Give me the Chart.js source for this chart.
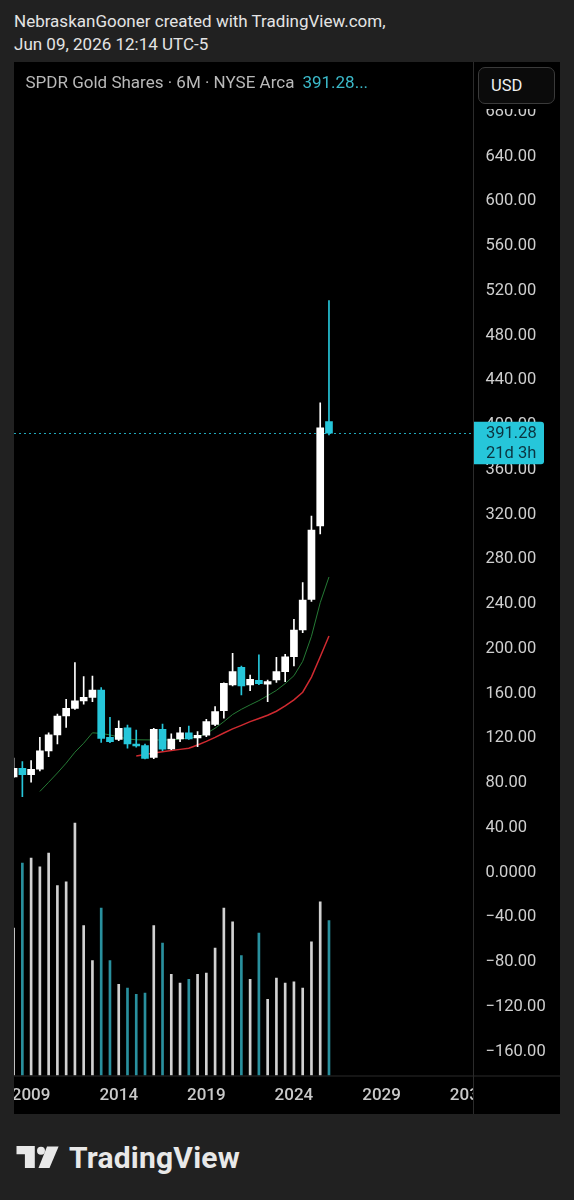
<!DOCTYPE html>
<html>
<head>
<meta charset="utf-8">
<script src="https://cdn.jsdelivr.net/npm/chart.js@4.4.1/dist/chart.umd.min.js"></script>
<style>
body { margin:0; width:574px; height:1200px; background:#212121; font-family: Roboto, "Noto Sans", sans-serif; position:relative; overflow:hidden; }
#credit { position:absolute; left:14px; top:10px; color:#e4e4e4; font-size:17px; line-height:23px; }
#frame { position:absolute; left:14px; top:62px; width:546px; height:1052px; background:#000; }
#frame canvas { position:absolute; left:0; top:0; }
#title { position:absolute; left:11.5px; top:10.5px; font-size:17px; line-height:19px; color:#b9b9b9; white-space:nowrap; }
#title span { color:#3bb9c9; margin-left:8px; }
#usdPanel { position:absolute; left:460px; top:0; width:86px; height:47px; background:#000; }
#usd { position:absolute; left:4px; top:5px; width:75px; height:35px; border:1px solid #3a3a3a; border-radius:7px; background:#0b0b0b; color:#f0f0f0; font-size:16.5px; line-height:35px; box-sizing:content-box; }
#usd span { margin-left:12px; }
#logoMark { position:absolute; left:0; top:1140px; }
#logoText { position:absolute; left:69px; top:1143px; font-size:30px; line-height:30px; font-weight:700; color:#e8e8e8; letter-spacing:0.2px; }
</style>
</head>
<body>
<div id="credit">NebraskanGooner created with TradingView.com,<br>Jun 09, 2026 12:14 UTC-5</div>
<div id="frame">
  <canvas id="myChart" width="546" height="1052"></canvas>
  <div id="title">SPDR Gold Shares · 6M · NYSE Arca<span id="lastPrice"></span></div>
  <div id="usdPanel"><div id="usd"><span>USD</span></div></div>
</div>
<svg id="logoMark" width="62" height="32">
  <path d="M16.5 6 H34.8 V28 H24.9 V14.3 H16.5 Z" fill="#e8e8e8"/>
  <circle cx="41" cy="10.7" r="4" fill="#e8e8e8"/>
  <path d="M47 6.5 H58.6 L49.5 28 H38.5 Z" fill="#e8e8e8"/>
</svg>
<div id="logoText">TradingView</div>

<script>
// 6M bars, GLD
const periods = ['2008 H1','2008 H2','2009 H1','2009 H2','2010 H1','2010 H2','2011 H1','2011 H2',
    '2012 H1','2012 H2','2013 H1','2013 H2','2014 H1','2014 H2','2015 H1','2015 H2',
    '2016 H1','2016 H2','2017 H1','2017 H2','2018 H1','2018 H2','2019 H1','2019 H2',
    '2020 H1','2020 H2','2021 H1','2021 H2','2022 H1','2022 H2','2023 H1','2023 H2',
    '2024 H1','2024 H2','2025 H1','2025 H2','2026 H1'];
const firstYear = 2008;

const openP  = [84, 91.8, 86.1, 90.9, 107.4, 121.6, 138.5, 145.4, 152, 155.2, 161.8, 119.5, 117.5, 128, 113.5, 112,
    101.5, 126.7, 109.1, 118, 123.6, 118.9, 121.3, 131, 143.3, 166.3, 182.1, 166.3, 170.5, 167, 170.7, 178.2,
    191.5, 215.4, 242.8, 308.4, 401.6];
const highP  = [101, 97.7, 98.6, 119.5, 123.6, 140.3, 153.5, 186.2, 173.7, 174.3, 164, 137.4, 134.3, 130.5, 126, 113.5,
    127.5, 131.4, 122.5, 128.4, 129.6, 124.5, 135.6, 146.9, 168.2, 194.6, 183.2, 175.2, 193.1, 170.7, 191, 193.7,
    225, 257.7, 317.3, 418.5, 509.8];
const lowP   = [83.5, 66.4, 79.3, 89.4, 102.2, 113.5, 128.4, 144.5, 149, 151.3, 115, 114.7, 116.5, 109.7, 110.6, 100.2,
    100.5, 107.5, 108.5, 115.6, 117.5, 111.1, 120, 130, 136.5, 165.5, 157.3, 161.2, 166.5, 151.3, 168.5, 169.2,
    183.2, 213, 241, 301.2, 389.7];
const closeP = [91.8, 86.1, 90.9, 107.4, 121.6, 138.5, 145.4, 152, 155.2, 161.8, 118.6, 115.6, 127.6, 113.5, 111.8, 100.7,
    126.7, 108.8, 118, 123.6, 118, 121.3, 133.5, 142.4, 167.8, 178.2, 165.4, 171.4, 167.5, 169.2, 178.2, 191.5,
    215.4, 242.2, 304.8, 396.2, 391.28];
// volume, millions of shares
const volume = [1180, 1700, 1740, 1670, 1780, 1520, 1550, 2020, 1200, 920, 1340, 920, 730, 700, 650, 660,
    1200, 1060, 810, 740, 770, 810, 820, 1020, 1340, 1230, 960, 770, 1140, 610, 780, 740,
    750, 700, 1070, 1390, 1240];
// moving averages (green / red)
const maFast = [null, null, null, 71.1, 79.3, 87.6, 96.4, 106.2, 114.2, 123.5, 123, 121.6, 119.8, 118, 117.3, 117.2,
    117.1, 117.1, 117.1, 118, 118.9, 119.8, 122.9, 127.6, 133.5, 139.9, 144.5, 148.5, 152.3, 156.8, 161.4, 167.5,
    174.5, 187.4, 209.8, 239.8, 262.8];
const maSlow = [null, null, null, null, null, null, null, null, null, null, null, null, null, null, 102.8, 104.1,
    105.4, 106.6, 107.6, 108.7, 109.7, 112.6, 115.8, 119.4, 123.3, 127, 130.2, 133.5, 136.3, 139.2, 142.8, 147.5,
    153, 159.8, 173.3, 191.5, 210];

const priceTicks = [-160, -120, -80, -40, 0, 40, 80, 120, 160, 200, 240, 280, 320, 360, 400, 440, 480, 520, 560, 600, 640, 680];
const yearTicks = [2009, 2014, 2019, 2024, 2029, 2034];
const countdown = '21d 3h';

const upColor = '#ffffff';
const downColor = '#26c6da';
const volUp = 'rgba(232,232,232,0.9)';
const volDown = 'rgba(46,160,175,0.9)';
const gridLine = '#2b2b2b';

const lastClose = closeP[closeP.length - 1];
document.getElementById('lastPrice').textContent = lastClose.toFixed(2) + '...';

function isUp(i) { return closeP[i] >= openP[i]; }

let wickData = periods.map((p, i) => ({x: i, y: [lowP[i], highP[i]]}));
let bodyData = periods.map((p, i) => ({x: i, y: [openP[i], closeP[i]]}));
let volData = periods.map((p, i) => ({x: i, y: volume[i]}));
let fastData = [];
let slowData = [];
periods.forEach((p, i) => {
    if (maFast[i] != null) fastData.push({x: i, y: maFast[i]});
    if (maSlow[i] != null) slowData.push({x: i, y: maSlow[i]});
});
let candleColors = periods.map((p, i) => isUp(i) ? upColor : downColor);
let volColors = periods.map((p, i) => isUp(i) ? volUp : volDown);

function fmtPrice(v) {
    if (v === 0) return '0.0000';
    return (v < 0 ? '\u2212' : '') + Math.abs(v).toFixed(2);
}

const tvExtras = {
    id: 'tvExtras',
    beforeDatasetsDraw(chart) {
        const ctx = chart.ctx;
        const area = chart.chartArea;
        const y = Math.round(chart.scales.y.getPixelForValue(lastClose)) + 0.5;
        ctx.save();
        ctx.strokeStyle = 'rgba(38,198,218,0.85)';
        ctx.lineWidth = 1;
        ctx.setLineDash([2, 3]);
        ctx.beginPath();
        ctx.moveTo(area.left, y);
        ctx.lineTo(area.right, y);
        ctx.stroke();
        ctx.restore();
    },
    afterDraw(chart) {
        const ctx = chart.ctx;
        const area = chart.chartArea;
        const w = chart.width, h = chart.height;
        ctx.save();
        // clip time labels under price scale
        ctx.fillStyle = '#000';
        ctx.fillRect(area.right, area.bottom, w - area.right, h - area.bottom);
        ctx.strokeStyle = gridLine;
        ctx.lineWidth = 1;
        ctx.beginPath();
        ctx.moveTo(area.right + 0.5, 0);
        ctx.lineTo(area.right + 0.5, h);
        ctx.moveTo(0, area.bottom + 0.5);
        ctx.lineTo(w, area.bottom + 0.5);
        ctx.stroke();

        // last price label
        const y = chart.scales.y.getPixelForValue(lastClose);
        const bx = area.right + 1, bw = 70, top = y - 11.6, bh = 42.6;
        ctx.fillStyle = downColor;
        ctx.beginPath();
        ctx.roundRect(bx, top, bw, bh, [0, 3, 3, 0]);
        ctx.fill();
        ctx.fillStyle = '#0b3440';
        ctx.font = '16.5px Roboto';
        ctx.textAlign = 'left';
        ctx.textBaseline = 'middle';
        ctx.fillText(lastClose.toFixed(2), area.right + 13, y + 1);
        ctx.fillText(countdown, area.right + 13, y + 20.5);
        ctx.restore();
    }
};

const ctx = document.getElementById('myChart').getContext('2d');
let Chart1 = new Chart(ctx, {
    type: 'bar',
    data: {
        datasets: [
            {
                label: 'Body',
                data: bodyData,
                backgroundColor: candleColors,
                barThickness: 7,
                grouped: false,
                minBarLength: 1,
                order: 1,
            },
            {
                label: 'Wick',
                data: wickData,
                backgroundColor: candleColors,
                barThickness: 1,
                grouped: false,
                order: 2,
            },
            {
                type: 'line',
                label: 'MA fast',
                data: fastData,
                borderColor: '#257a35',
                borderWidth: 1,
                pointRadius: 0,
                tension: 0,
                order: 3,
            },
            {
                type: 'line',
                label: 'MA slow',
                data: slowData,
                borderColor: '#cf2a30',
                borderWidth: 1.5,
                pointRadius: 0,
                tension: 0,
                order: 3,
            },
            {
                label: 'Volume',
                data: volData,
                yAxisID: 'y2',
                backgroundColor: volColors,
                barThickness: 2,
                grouped: false,
                order: 4,
            },
        ],
    },
    options: {
        responsive: false,
        animation: false,
        events: [],
        layout: { padding: 0 },
        plugins: {
            legend: { display: false },
            tooltip: { enabled: false },
        },
        scales: {
            x: {
                type: 'linear',
                offset: false,
                min: 0.046,
                max: 52.44,
                grid: { display: false, drawTicks: false, offset: false },
                border: { display: false },
                afterBuildTicks: axis => {
                    axis.ticks = yearTicks.map(yr => ({value: (yr - firstYear) * 2}));
                },
                afterFit: scale => {
                    scale.height = 38.5;
                    scale.paddingLeft = 0;
                    scale.paddingRight = 0;
                },
                ticks: {
                    autoSkip: false,
                    maxRotation: 0,
                    padding: 10.5,
                    color: '#c9c9c9',
                    font: { family: 'Roboto', size: 17, weight: '500' },
                    callback: v => String(firstYear + v / 2),
                },
            },
            y: {
                type: 'linear',
                position: 'right',
                min: -182.8,
                max: 723.1,
                grid: { display: false, drawTicks: false },
                border: { display: false },
                afterBuildTicks: axis => {
                    axis.ticks = priceTicks.map(v => ({value: v}));
                },
                afterFit: scale => {
                    scale.width = 87;
                    scale.paddingTop = 0;
                    scale.paddingBottom = 0;
                },
                ticks: {
                    padding: 12.5,
                    crossAlign: 'near',
                    labelOffset: 1.5,
                    color: '#cfcfcf',
                    font: { family: 'Roboto', size: 16.5 },
                    callback: v => fmtPrice(v),
                },
            },
            y2: {
                type: 'linear',
                display: false,
                min: 0,
                max: 8108,
            },
        },
    },
    plugins: [tvExtras],
});
</script>
</body>
</html>
